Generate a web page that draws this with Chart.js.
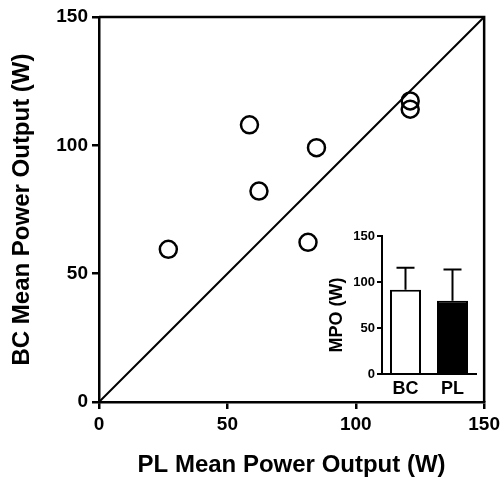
<!DOCTYPE html>
<html>
<head>
<meta charset="utf-8">
<script src="https://cdn.jsdelivr.net/npm/chart.js@4.4.0/dist/chart.umd.min.js"></script>
<style>
  body { margin: 0; background: #fff; }
  #wrap { position: relative; width: 504px; height: 480px; }
  #main { position: absolute; left: 0; top: 0; }
  #inset { position: absolute; left: 320px; top: 226px; }
</style>
</head>
<body>
<div id="wrap">
  <canvas id="main" width="504" height="480"></canvas>
  <canvas id="inset" width="170" height="180"></canvas>
</div>
<script>
// datos del grafico principal (PL vs BC)
const plValues = [27, 58.6, 62.3, 84.7, 81.4, 121.2, 121.2];
const bcValues = [59.5, 108, 82.2, 99.1, 62.2, 117.3, 114.1];
const identityLine = [0, 150];
const axisTicks = [0, 50, 100, 150];

// datos del inset (media y desviacion)
const insetLabels = ["BC", "PL"];
const insetMeans = [91.6, 79.6];
const insetSd = [24, 34.1];

const fuente = "'Liberation Sans', Arial, sans-serif";
Chart.defaults.font.family = fuente;
Chart.defaults.color = "#000";
Chart.defaults.devicePixelRatio = 1;

// marco superior y derecho
const marco = {
  id: "marco",
  afterDraw(chart) {
    const { ctx, chartArea: a } = chart;
    ctx.save();
    ctx.strokeStyle = "#000";
    ctx.lineWidth = 2.5;
    ctx.beginPath();
    ctx.moveTo(a.left, a.top);
    ctx.lineTo(a.right, a.top);
    ctx.lineTo(a.right, a.bottom);
    ctx.stroke();
    ctx.restore();
  },
};

new Chart(document.getElementById("main"), {
  type: "scatter",
  data: {
    datasets: [
      {
        data: identityLine.map((v) => ({ x: v, y: v })),
        showLine: true,
        borderColor: "#000",
        borderWidth: 2,
        pointRadius: 0,
        clip: false,
      },
      {
        data: plValues.map((v, i) => ({ x: v, y: bcValues[i] })),
        pointStyle: "circle",
        pointRadius: 8.5,
        borderWidth: 2.5,
        borderColor: "#000",
        backgroundColor: "rgba(0,0,0,0)",
        clip: false,
      },
    ],
  },
  options: {
    responsive: false,
    animation: false,
    layout: { padding: { left: 0, top: 17, right: 19, bottom: 0 } },
    plugins: { legend: { display: false }, tooltip: { enabled: false } },
    scales: {
      x: {
        type: "linear",
        min: 0,
        max: 150,
        afterBuildTicks: (s) => (s.ticks = axisTicks.map((v) => ({ value: v }))),
        afterFit: (s) => (s.height = 78),
        ticks: { font: { size: 19, weight: "bold" }, padding: 4, maxRotation: 0 },
        grid: { drawOnChartArea: false, tickLength: 7, color: "#000", lineWidth: 2.5 },
        border: { color: "#000", width: 2.5 },
        title: {
          display: true,
          text: "PL Mean Power Output (W)",
          font: { size: 24, weight: "bold" },
          padding: { top: 0, bottom: 0 },
        },
      },
      y: {
        type: "linear",
        min: 0,
        max: 150,
        afterBuildTicks: (s) => (s.ticks = axisTicks.map((v) => ({ value: v }))),
        afterFit: (s) => (s.width = 99),
        ticks: { font: { size: 19, weight: "bold" }, padding: 4 },
        grid: { drawOnChartArea: false, tickLength: 7, color: "#000", lineWidth: 2.5 },
        border: { color: "#000", width: 2.5 },
        title: {
          display: true,
          text: "BC Mean Power Output (W)",
          font: { size: 24, weight: "bold" },
          padding: { top: 8, bottom: 0 },
        },
      },
    },
  },
  plugins: [marco],
});

// barras de error (solo hacia arriba)
const barrasError = {
  id: "barrasError",
  afterDatasetsDraw(chart) {
    const { ctx } = chart;
    const meta = chart.getDatasetMeta(0);
    const y = chart.scales.y;
    ctx.save();
    ctx.strokeStyle = "#000";
    ctx.lineWidth = 2;
    meta.data.forEach((bar, i) => {
      const y0 = y.getPixelForValue(insetMeans[i]);
      const y1 = y.getPixelForValue(insetMeans[i] + insetSd[i]);
      ctx.beginPath();
      ctx.moveTo(bar.x, y0);
      ctx.lineTo(bar.x, y1);
      ctx.moveTo(bar.x - 9, y1);
      ctx.lineTo(bar.x + 9, y1);
      ctx.stroke();
    });
    ctx.restore();
  },
};

new Chart(document.getElementById("inset"), {
  type: "bar",
  data: {
    labels: insetLabels,
    datasets: [
      {
        data: insetMeans,
        backgroundColor: ["#fff", "#000"],
        borderColor: "#000",
        borderWidth: 2,
        borderSkipped: "bottom",
        categoryPercentage: 1,
        barPercentage: 0.66,
      },
    ],
  },
  options: {
    responsive: false,
    animation: false,
    layout: { padding: { left: 0, top: 10, right: 14, bottom: 0 } },
    plugins: { legend: { display: false }, tooltip: { enabled: false } },
    scales: {
      x: {
        afterFit: (s) => (s.height = 32),
        ticks: { font: { size: 18, weight: "bold" }, padding: -4 },
        grid: { display: false },
        border: { color: "#000", width: 2 },
      },
      y: {
        min: 0,
        max: 150,
        afterBuildTicks: (s) => (s.ticks = axisTicks.map((v) => ({ value: v }))),
        afterFit: (s) => (s.width = 62),
        ticks: { font: { size: 13, weight: "bold" }, padding: 2 },
        grid: { drawOnChartArea: false, tickLength: 5, color: "#000", lineWidth: 2 },
        border: { color: "#000", width: 2 },
        title: {
          display: true,
          // espacios al final para bajar un poco el texto
          text: "MPO (W)    ",
          font: { size: 18, weight: "bold" },
          padding: { top: 6, bottom: 0 },
        },
      },
    },
  },
  plugins: [barrasError],
});
</script>
</body>
</html>
